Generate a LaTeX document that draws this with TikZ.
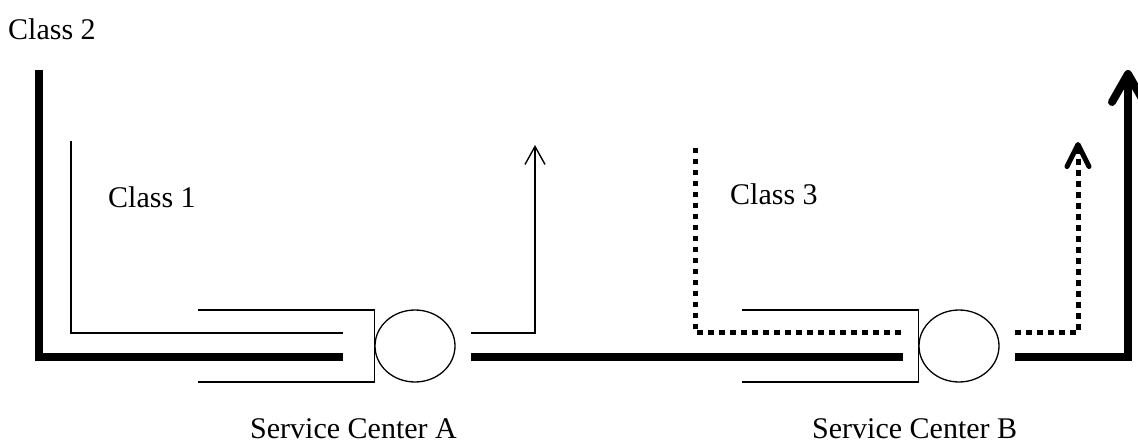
\documentclass[tikz,border=0pt]{standalone}
\usepackage{fontspec}
\setmainfont{Liberation Serif}
\usetikzlibrary{arrows.meta,shapes.geometric,positioning}

\begin{document}
\begin{tikzpicture}[x=1pt,y=-1pt,
	  every node/.style={inner sep=0pt,font=\fontsize{30}{36}\selectfont},
	  caption/.style={anchor=base west},
	  server/.style={draw,ellipse,line width=1.3pt,minimum width=80pt,minimum height=72pt},
	  queue/.style={line width=1.3pt},
	  thinline/.style={line width=1.4pt},
	  thickline/.style={line width=8pt},
	  dotline/.style={line width=5pt,dash pattern=on 5.5pt off 5.5pt},
	  thinflow/.style={thinline,-{Straight Barb[length=18pt,width=20pt]}},
	  thickflow/.style={thickline,-{Straight Barb[length=28pt,width=32pt,round]}},
	  dotflow/.style={dotline,-{Straight Barb[length=22pt,width=22pt,round]}}]
	  \useasboundingbox (0,0) rectangle (1138,446);

	  % service centers and their queues
	  \node[server] (srvA) at (415,346) {};
	  \node[server] (srvB) at (959,346) {};
	  \draw[queue] (198,310) -| (srvA.west) |- (198,382);
	  \draw[queue] (742,310) -| (srvB.west) |- (742,382);

	  % labels
	  \node[caption] (lblc2) at (8,40) {Class 2};
	  \node[caption] (lblc1) at (108,208) {Class 1};
	  \node[caption] (lblc3) at (730,205) {Class 3};
	  \node[caption] (lblA) at (250,438) {Service Center A};
	  \node[caption] (lblB) at (812,438) {Service Center B};

	  % end points of the flows
	  \coordinate (c2src) at (39,70);
	  \coordinate (c2inA) at (343,357);
	  \coordinate (c2outA) at (471,357);
	  \coordinate (c2inB) at (903,357);
	  \coordinate (c2outB) at (1015,357);
	  \coordinate (c2dst) at (1128,70);
	  \coordinate (c1src) at (71,141);
	  \coordinate (c1inA) at (343,333);
	  \coordinate (c1outA) at (471,333);
	  \coordinate (c1dst) at (535,145);
	  \coordinate (c3src) at (695,148);
	  \coordinate (c3inB) at (903,333);
	  \coordinate (c3outB) at (1015,333);
	  \coordinate (c3dst) at (1078,142);

	  \draw[thickline] (c2src) |- (c2inA);
	  \draw[thickline] (c2outA) -- (c2inB);
	  \draw[thickflow] (c2outB) -| (c2dst);
	  \draw[thinline] (c1src) |- (c1inA);
	  \draw[thinflow] (c1outA) -| (c1dst);
	  \draw[dotline] (c3src) |- (c3inB);
	  \draw[dotflow] (c3outB) -| (c3dst);
\end{tikzpicture}
\end{document}
